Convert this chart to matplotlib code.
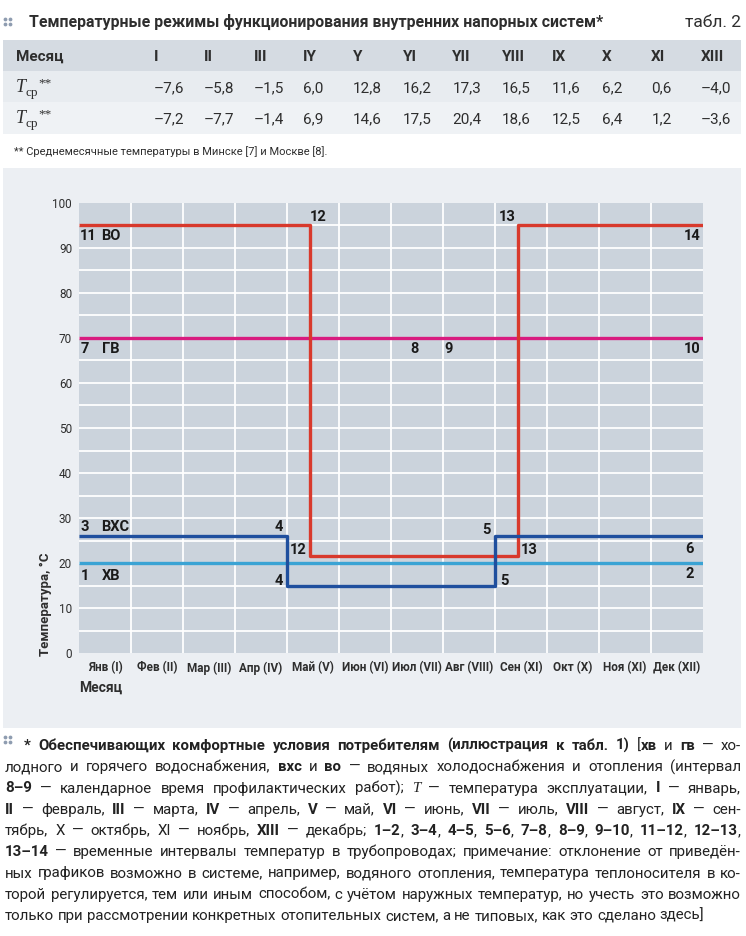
import re
import matplotlib
matplotlib.use("Agg")
import matplotlib.pyplot as plt
from matplotlib import font_manager
from matplotlib.patches import Rectangle, Circle
import numpy as np

W, H, DPI = 746, 936, 100

names = {f.name for f in font_manager.fontManager.ttflist}


def pick(*cands):
    for c in cands:
        if c in names:
            return c
    return "DejaVu Sans"


COND = pick("Liberation Sans Narrow", "DejaVu Sans Condensed", "Roboto", "Liberation Sans")
BODY = pick("Roboto", "Liberation Sans", "DejaVu Sans")
SERIF = pick("Liberation Serif", "DejaVu Serif")

# ---------------------------------------------------------------------
# data
# ---------------------------------------------------------------------
table_cols = ["I", "II", "III", "IY", "Y", "YI", "YII", "YIII", "IX", "X", "XI", "XIII"]
t_minsk = [-7.6, -5.8, -1.5, 6.0, 12.8, 16.2, 17.3, 16.5, 11.6, 6.2, 0.6, -4.0]
t_moscow = [-7.2, -7.7, -1.4, 6.9, 14.6, 17.5, 20.4, 18.6, 12.5, 6.4, 1.2, -3.6]

month_labels = ["Янв (I)", "Фев (II)", "Мар (III)", "Апр (IV)", "Май (V)", "Июн (VI)",
                "Июл (VII)", "Авг (VIII)", "Сен (XI)", "Окт (X)", "Ноя (XI)", "Дек (XII)"]
y_ticks = [0, 10, 20, 30, 40, 50, 60, 70, 80, 90, 100]

# heating (во)
vo_x = [0, 4.45, 4.45, 8.45, 8.45, 12]
vo_y = [95, 95, 21.5, 21.5, 95, 95]
# hot water (гв)
gv_x = [0, 12]
gv_y = [70, 70]
# cold supply (вхс)
vhs_x = [0, 4, 4, 8, 8, 12]
vhs_y = [26, 26, 15, 15, 26, 26]
# cold water (хв)
hv_x = [0, 12]
hv_y = [20, 20]

point_labels = [
    ("11", 0.18, 92.6), ("ВО", 0.62, 92.6), ("12", 4.6, 96.8),
    ("13", 8.23, 96.8), ("14", 11.8, 92.6),
    ("7", 0.12, 67.5), ("ГВ", 0.62, 67.5), ("8", 6.45, 67.5),
    ("9", 7.1, 67.5), ("10", 11.8, 67.5),
    ("3", 0.12, 28.1), ("ВХС", 0.69, 28.1), ("4", 3.85, 28.1),
    ("12", 4.22, 22.8), ("4", 3.85, 16.1),
    ("1", 0.12, 17.1), ("ХВ", 0.62, 17.1),
    ("5", 7.84, 27.4), ("13", 8.66, 22.8), ("5", 8.18, 16.1),
    ("6", 11.74, 23.2), ("2", 11.74, 17.6),
]

caption = [
    "<b>* Обеспечивающих комфортные условия потребителям (иллюстрация к табл. 1)</b> [<b>хв</b> и <b>гв</b> — хо-",
    "лодного и горячего водоснабжения, <b>вхс</b> и <b>во</b> — водяных холодоснабжения и отопления (интервал",
    "<b>8–9</b> — календарное время профилактических работ); <i>T</i> — температура эксплуатации, <b>I</b> — январь,",
    "<b>II</b> — февраль, <b>III</b> — марта, <b>IV</b> — апрель, <b>V</b> — май, <b>VI</b> — июнь, <b>VII</b> — июль, <b>VIII</b> — август, <b>IX</b> — сен-",
    "тябрь, X — октябрь, XI — ноябрь, <b>XIII</b> — декабрь; <b>1–2</b>, <b>3–4</b>, <b>4–5</b>, <b>5–6</b>, <b>7–8</b>, <b>8–9</b>, <b>9–10</b>, <b>11–12</b>, <b>12–13</b>,",
    "<b>13–14</b> — временные интервалы температур в трубопроводах; примечание: отклонение от приведён-",
    "ных графиков возможно в системе, например, водяного отопления, температура теплоносителя в ко-",
    "торой регулируется, тем или иным способом, с учётом наружных температур, но учесть это возможно",
    "только при рассмотрении конкретных отопительных систем, а не типовых, как это сделано здесь]",
]

# ---------------------------------------------------------------------
fig = plt.figure(figsize=(W / DPI, H / DPI), dpi=DPI)
fig.patch.set_facecolor("white")
bg = fig.add_axes([0, 0, 1, 1], zorder=0)
bg.set_xlim(0, W)
bg.set_ylim(H, 0)
bg.axis("off")
renderer = fig.canvas.get_renderer()

TXT = "#2e2e2e"
ICON = "#8e9cb0"


def width(t):
    return t.get_window_extent(renderer).width


def fit_text(x, y, s, target, ha="left", **kw):
    t = bg.text(x, y, s, ha=ha, va="baseline", **kw)
    fs = t.get_fontsize()
    t.set_fontsize(fs * target / width(t))
    return t


def icon(x, y):
    for dx in (0, 5):
        for dy in (0, 5):
            bg.add_patch(Circle((x + dx, y + dy), 1.9, color=ICON, lw=0))


# title
icon(5.5, 19.5)
fit_text(29, 27, "Температурные режимы функционирования внутренних напорных систем*",
         574, family=COND, weight="bold", color=TXT, fontsize=13)
bg.text(741, 27, "табл. 2", ha="right", va="baseline", family=COND,
        fontsize=12.5, color=TXT)

# table
bg.add_patch(Rectangle((3, 40), 738, 31, fc="#d5dbe2", lw=0))
bg.add_patch(Rectangle((3, 71), 738, 31, fc="#e8ecf0", lw=0))
bg.add_patch(Rectangle((3, 102), 738, 32, fc="#eff2f5", lw=0))
col_x = np.linspace(154, 701, len(table_cols))
bg.text(16, 61, "Месяц", ha="left", va="baseline", family=COND, weight="bold",
        fontsize=11, color=TXT)


def fmt(v):
    return f"{v:.1f}".replace(".", ",").replace("-", "–")


for cx, c, a, b in zip(col_x, table_cols, t_minsk, t_moscow):
    bg.text(cx, 61, c, ha="left", va="baseline", family=COND, weight="bold",
            fontsize=11, color=TXT)
    bg.text(cx, 92, fmt(a), ha="left", va="baseline", family=COND,
            fontsize=11, color=TXT)
    bg.text(cx, 123, fmt(b), ha="left", va="baseline", family=COND,
            fontsize=11, color=TXT)

for base in (92, 123):
    t = bg.text(16, base, "T", ha="left", va="baseline", family=SERIF,
                style="italic", fontsize=13, color=TXT)
    x = 16 + width(t) - 1
    t2 = bg.text(x, base + 4, "ср", ha="left", va="baseline", family=SERIF,
                 fontsize=9.5, color=TXT)
    bg.text(x + width(t2) + 0.5, base - 6, "**", ha="left", va="baseline",
            family=SERIF, fontsize=9.5, color=TXT)

fit_text(14, 155, "** Среднемесячные температуры в Минске [7] и Москве [8].", 314,
         family=COND, fontsize=9, color=TXT)

# chart panel
bg.add_patch(Rectangle((3, 168), 738, 560, fc="#eceff3", lw=0))

ax = fig.add_axes([79 / W, 1 - 653 / H, 624 / W, 450 / H], zorder=1)
ax.set_facecolor("#cbd3dc")
for s in ax.spines.values():
    s.set_visible(False)
ax.set_xlim(0, 12)
ax.set_ylim(0, 100)
for v in range(1, 12):
    ax.axvline(v, color="white", lw=1.3, zorder=1)
for h in range(5, 100, 5):
    ax.axhline(h, color="white", lw=1.3, zorder=1)

ax.plot(gv_x, gv_y, color="#d81b7f", lw=2.4, zorder=3, solid_capstyle="butt")
ax.plot(hv_x, hv_y, color="#3aa3d4", lw=2.4, zorder=3, solid_capstyle="butt")
ax.plot(vo_x, vo_y, color="#d8392c", lw=2.4, zorder=4, solid_capstyle="butt")
ax.plot(vhs_x, vhs_y, color="#1f4f9e", lw=2.4, zorder=5, solid_capstyle="butt")

for s, x, y in point_labels:
    ax.text(x, y, s, ha="center", va="center", family=COND, weight="bold",
            fontsize=10.5, color="#1a1a1a", zorder=6)

ax.set_yticks(y_ticks)
ax.set_yticklabels([str(v) for v in y_ticks], family=COND, fontsize=8.5, color=TXT)
ax.set_xticks(np.arange(len(month_labels)) + 0.5)
ax.set_xticklabels(month_labels, family=COND, weight="bold", fontsize=8.5, color=TXT)
ax.tick_params(length=0, pad=5)
ax.tick_params(axis="x", pad=6)

bg.text(46, 656, "Температура, °С", rotation=90, ha="center", va="bottom",
        family=COND, weight="bold", fontsize=9.5, color=TXT)
bg.text(79, 692, "Месяц", ha="left", va="baseline", family=COND, weight="bold",
        fontsize=10, color=TXT)

# caption, justified
STYLE = {
    "r": dict(family=BODY),
    "b": dict(family=BODY, weight="bold"),
    "i": dict(family=SERIF, style="italic"),
}


def parse(line):
    runs = []
    for part in re.split(r"(<b>.*?</b>|<i>.*?</i>)", line):
        if not part:
            continue
        if part.startswith("<b>"):
            runs.append((part[3:-4], "b"))
        elif part.startswith("<i>"):
            runs.append((part[3:-4], "i"))
        else:
            runs.append((part, "r"))
    words, cur = [], []
    for text, st in runs:
        for k, p in enumerate(text.split(" ")):
            if k > 0 and cur:
                words.append(cur)
                cur = []
            if p:
                cur.append((p, st))
    if cur:
        words.append(cur)
    return words


def measure(s, st, fs):
    t = bg.text(0, 0, s, fontsize=fs, **STYLE[st])
    w = width(t)
    t.remove()
    return w


cap_words = [parse(l) for l in caption]
starts = [24] + [5] * (len(caption) - 1)
right = 741


def natural(fs):
    sp = measure("н н", "r", fs) - measure("нн", "r", fs)
    out = []
    for words in cap_words:
        ws = [sum(measure(p, st, fs) for p, st in wd) for wd in words]
        out.append((ws, sp))
    return out


fs0 = 10.5
nat = natural(fs0)
ratio = max((sum(ws) + sp * (len(ws) - 1)) / (right - x0)
            for (ws, sp), x0 in zip(nat[:-1], starts[:-1]))
fs = fs0 / ratio * 0.985

icon(5.5, 737.5)
line_y0, line_dy = 750, 21.25
for i, (words, x0) in enumerate(zip(cap_words, starts)):
    base = line_y0 + i * line_dy
    texts = []
    for wd in words:
        pieces = [bg.text(0, base, p, ha="left", va="baseline", fontsize=fs,
                          color="#222222", **STYLE[st]) for p, st in wd]
        texts.append(pieces)
    wws = [sum(width(t) for t in pcs) for pcs in texts]
    if i < len(caption) - 1:
        gap = (right - x0 - sum(wws)) / (len(wws) - 1)
    else:
        gap = measure("н н", "r", fs) - measure("нн", "r", fs)
    x = x0
    for pcs, ww in zip(texts, wws):
        for t in pcs:
            t.set_x(x)
            x += width(t)
        x += gap

fig.savefig("out.png", dpi=DPI, facecolor="white")
